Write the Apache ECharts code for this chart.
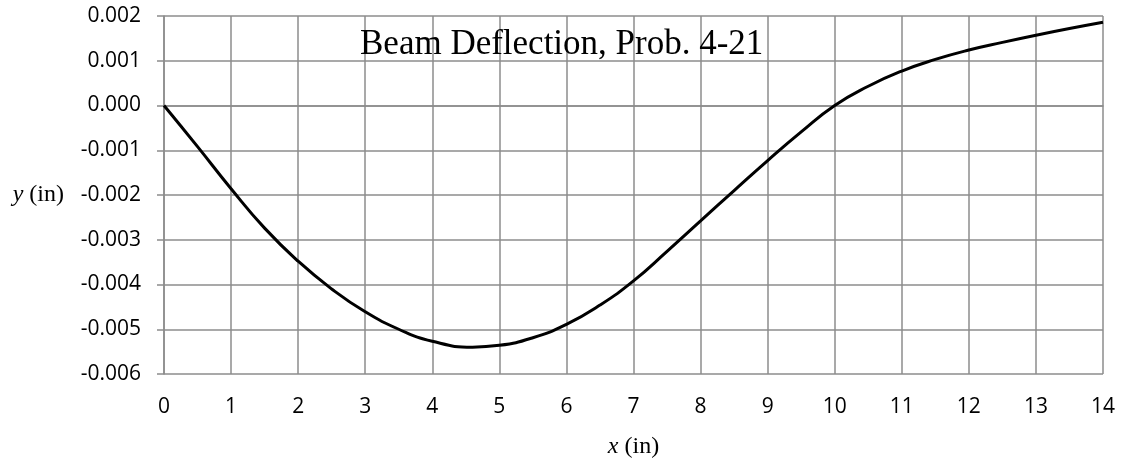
<!DOCTYPE html>
<html>
<head>
<meta charset="utf-8">
<title>Beam Deflection</title>
<script src="https://cdn.jsdelivr.net/npm/echarts@6/dist/echarts.min.js"></script>
<style>
  html, body { margin: 0; padding: 0; background: #fff; }
  #chart { width: 1121px; height: 464px; }
</style>
</head>
<body>
<div id="chart"></div>
<script>
// Position along the beam (in)
const xPos = [0, 0.5, 1, 1.5, 2, 2.5, 3, 3.5, 4, 4.6, 5, 5.5, 6, 6.5, 7,
              7.5, 8, 8.5, 9, 9.5, 10, 10.5, 11, 11.5, 12, 12.5, 13, 13.5, 14];
// Deflection y (in)
const deflection = [0, -0.00092, -0.00186, -0.00274, -0.00348, -0.00410, -0.00461,
                    -0.00500, -0.00527, -0.00540, -0.00536, -0.00519, -0.00489,
                    -0.00446, -0.00392, -0.00326, -0.00258, -0.00190, -0.00123,
                    -0.00059, 0.00000, 0.00043, 0.00077, 0.00103, 0.00124,
                    0.00141, 0.00157, 0.00172, 0.00186];
const titleText = 'Beam Deflection, Prob. 4-21';

const points = xPos.map((x, i) => [x, deflection[i]]);

const gridColor = '#8c8c8c';
const labelFont = '"Open Sans", "Liberation Sans", sans-serif';
const serifFont = '"Liberation Serif", "DejaVu Serif", serif';

const chart = echarts.init(document.getElementById('chart'), null, { renderer: 'canvas' });
chart.setOption({
  animation: false,
  backgroundColor: '#fff',
  title: {
    text: titleText,
    left: 355,
    top: 22,
    textStyle: { fontFamily: serifFont, fontSize: 35, fontWeight: 'normal', color: '#000' }
  },
  grid: { left: 164, right: 18, top: 16, bottom: 85, containLabel: false },
  xAxis: {
    type: 'value',
    min: 0, max: 14, interval: 1,
    name: '{i|x} (in)',
    nameLocation: 'middle',
    nameGap: 61,
    nameTextStyle: {
      fontFamily: serifFont, fontSize: 24, color: '#000',
      rich: { i: { fontFamily: serifFont, fontSize: 24, fontStyle: 'italic', color: '#000' } }
    },
    axisLine: { show: true, lineStyle: { color: gridColor, width: 1.5 } },
    axisTick: { show: false },
    axisLabel: { fontFamily: labelFont, fontSize: 21, color: '#000', margin: 23 },
    splitLine: { show: true, lineStyle: { color: gridColor, width: 1.5 } }
  },
  yAxis: {
    type: 'value',
    min: -0.006, max: 0.002, interval: 0.001,
    name: '{i|y} (in)',
    nameLocation: 'middle',
    nameRotate: 0,
    nameGap: 100,
    nameTextStyle: {
      fontFamily: serifFont, fontSize: 24, color: '#000', align: 'right',
      rich: { i: { fontFamily: serifFont, fontSize: 24, fontStyle: 'italic', color: '#000' } }
    },
    axisLine: { show: true, onZero: false, lineStyle: { color: gridColor, width: 1.5 } },
    axisTick: { show: true, inside: false, length: 7, lineStyle: { color: gridColor, width: 1.5 } },
    axisLabel: {
      fontFamily: labelFont, fontSize: 21, color: '#000', margin: 23,
      formatter: v => (Math.abs(v) < 1e-9 ? 0 : v).toFixed(3)
    },
    splitLine: { show: true, lineStyle: { color: gridColor, width: 1.5 } }
  },
  series: [{
    type: 'line',
    data: points,
    smooth: 0.5,
    showSymbol: false,
    lineStyle: { color: '#000', width: 3 },
    z: 5
  }]
});
</script>
</body>
</html>
